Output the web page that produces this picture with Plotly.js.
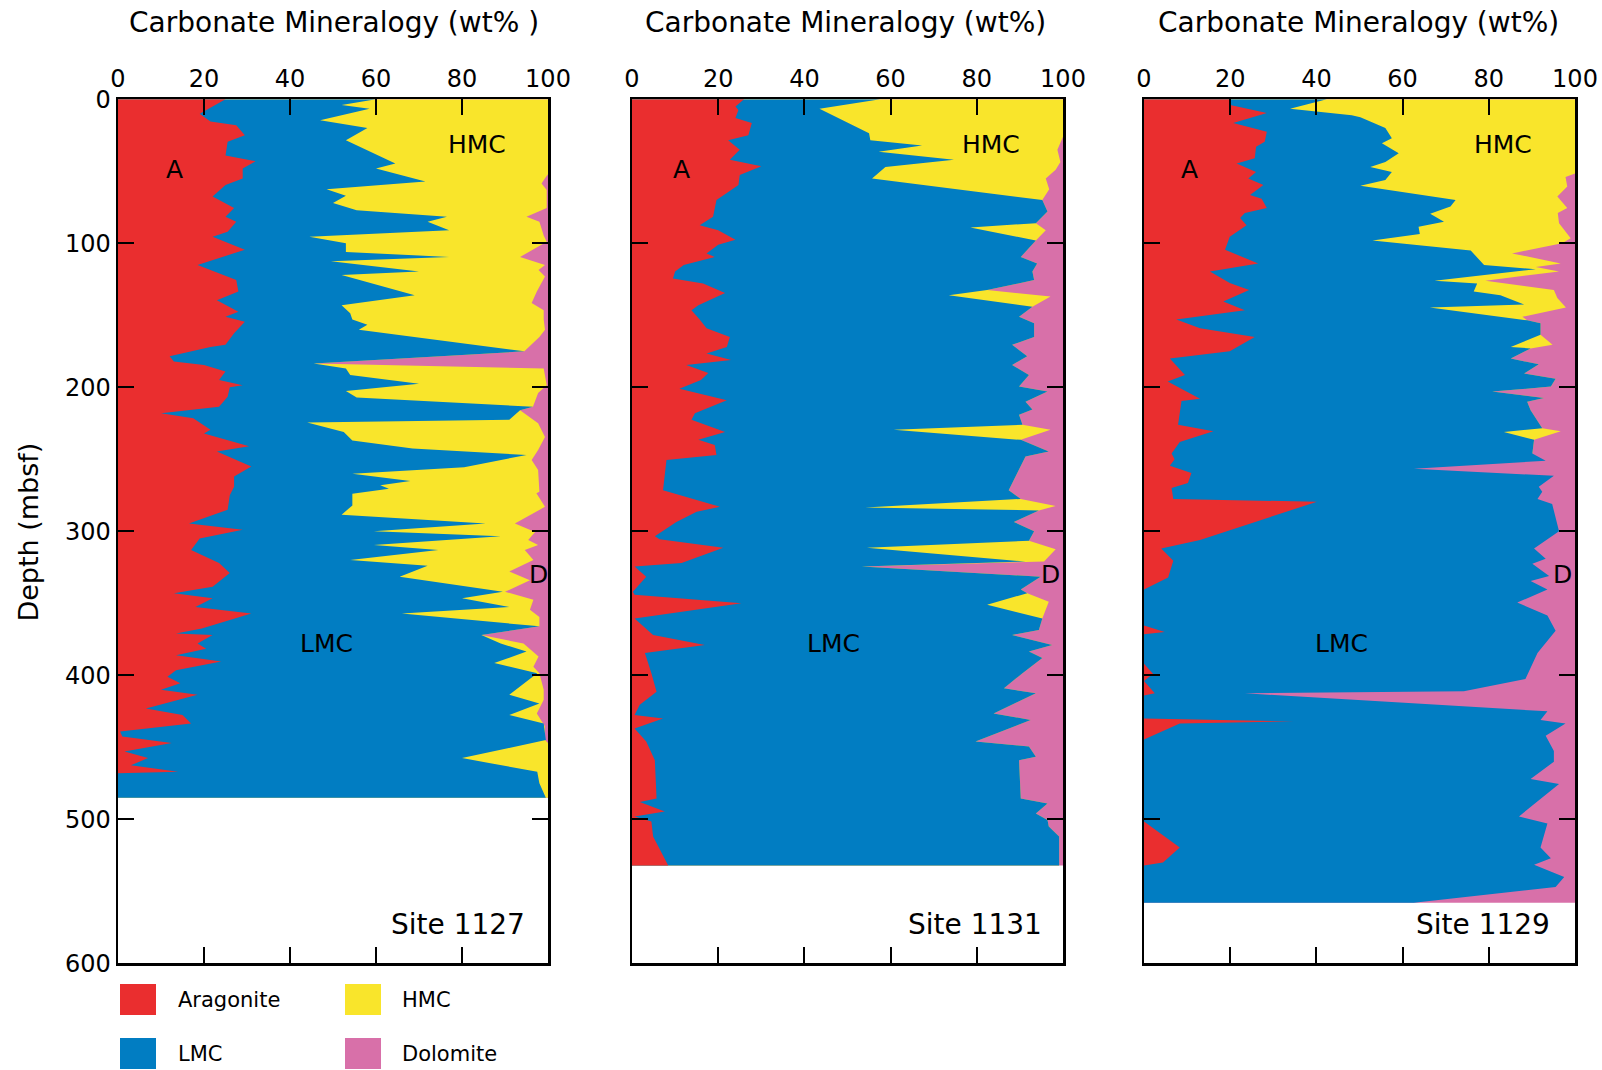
<!DOCTYPE html>
<html><head><meta charset="utf-8">
<script src="https://cdn.plot.ly/plotly-3.0.1.min.js"></script>
<style>html,body{margin:0;padding:0;background:#fff;} #chart{width:1602px;height:1070px;}</style>
</head><body><div id="chart"></div>
<script>
// ---------------- DATA ----------------
const siteNames = ['Site 1127', 'Site 1131', 'Site 1129'];
const siteBottom = [485, 532, 558];          // deepest sample (mbsf)
const xTicks = [0, 20, 40, 60, 80, 100];
const depthTicks = [0, 100, 200, 300, 400, 500, 600];

// Site 1127 : aragonite (wt%)
const s1127_aragDepth = [0,10,15.5,18,25,29.5,39,43,48,55, 59.5,67.5,75.5,81.5,85,92,95.5,104.5,115,125.5, 133.5,139.5,147.5,151,154.5,162.5,170.5,172,178.5,182, 184.5,189,195,198.5,200,206.5,213.5,218,221.5,229.5, 232,241,244.5,255,262,269,275,285,294.5,299, 305,313,322,329,338.5,343,346.5,352.5,357,367.5, 371,372,378,381.5,386,390.5,396.5,401,405.5,410, 413.5,423,427.5,433.5,439,442.5,447,453,457.5,462.5, 467,468,485];
const s1127_arag = [25,19,21.5,27.5,29.5,25.5,25,32,29,29, 25,22,27,25,27.5,25.5,22,29.5,18.5,27.5, 28,23,28,25,29.5,27,25,21.5,12,13, 20,25,23.5,29,26,25.5,23.5,10,17.5,21.5, 20,30.5,23,31,27,27,26,25.5,16.5,29, 19,17,23.5,26,22,13,22,18,31,19.5, 13.5,22,18.5,20.5,13.5,24,13.5,11.5,14.5,10, 18.5,6.5,15,17,0.5,1,12.5,1.5,7,3, 14,0,0];
// Site 1127 : aragonite + LMC (cumulative wt%)
const s1127_lmcDepth = [0,4,6.5,14.5,20,28.5,44.5,48,57,62.5, 67,72,77,81.5,85,91,95.5,100,106,109.5, 112.5,119.5,122,136,143,148.5,153,156.5,160,175, 183.5,187,191.5,197.5,202.5,207,213.5,216,222.5,224.5, 231,237,242.5,247,255.5,260,265,268,270.5,274, 282,288.5,294.5,300,303.5,309.5,313,320,324,331.5, 342,346.5,352.5,357,366,372,378,383.5,391.5,398.5, 413.5,419.5,427.5,433.5,445,457.5,467,475,485];
const s1127_aragLmc = [60,52,58.5,47,58,53,64.5,60,71.5,48.5, 53,50,55.5,76.5,72,77,44.5,53,53,77, 49.5,70,52,69,52,54,54.5,58,56,94.5, 45.5,53,54,70,53,55.5,96.5,93.5,91,44, 52.5,54.5,68.5,95,80.5,54.5,68,61,63,54.5, 54.5,52,85.5,59.5,89,59.5,74.5,54,72,65.5, 89.5,80,91,66,98,84.5,89,95,87.5,97.5, 91,98,91,99,99.5,80,97.5,98,99.5];
// Site 1127 : aragonite + LMC + HMC (cumulative wt%); remainder is dolomite
const s1127_hmcDepth = [0,52,54,58.5,63,75.5,81.5,85,94.5,99, 109.5,115,118.5,123,133.5,141.5,146.5,153,160,165, 175,183.5,187,198.5,204,213.5,216,225,234.5,243.5, 250.5,257.5,272.5,273.5,283,294.5,300.5,306,309.5,313, 320,328,334,342,347.5,354.5,359.5,366,372,378, 387,394,398.5,410,417,426.5,435.5,445,447,485];
const s1127_aragLmcHmc = [100,100,99.5,98.5,99.7,99.7,95,98,99,99.7, 93.5,99.3,97.8,99.3,97.4,96.2,99,99,99.3,98, 94.5,45.5,99,99.7,97.7,96.5,93.5,97.7,99.3,97.7, 96.2,97.7,98,97.3,99.3,92.3,97,95.4,97.7,94.6, 96.6,91,95.8,90,96.6,95.8,98,98,84.5,94.3, 97.8,96.6,98,99,99,97.4,99.3,99.3,100,100];

// Site 1131
const s1131_aragDepth = [0,5,7.5,13,16.5,25,28.5,35,42,46.5, 52.5,59.5,65,70,81.5,87.5,91,97.5,101,107, 109.5,115,119.5,124.5,128,134.5,143,146.5,153,159, 165,172,176.5,181,184.5,190,195,201,209,218, 222.5,231,236.5,240,247,250.5,271.5,273.5,283,286.5, 293.5,303.5,305.5,311.5,322,324.5,331.5,342,344,350, 360.5,372,379,384.5,398.5,411.5,420.5,427.5,430,437, 446,448.5,459,485.5,488,494.5,498,501.5,512,532];
const s1131_arag = [26,24,24.7,24,27.8,27,22.3,25,22.7,30, 25,24.7,22,19.6,18.8,15.7,20,24,20,17.3, 19.2,12,10,9.5,16.5,21.6,15.4,13.8,15.7,17.3, 22.7,22,17.3,23,12.6,17.7,16,11,22,14.6, 13.8,21.6,15.4,19.2,19.6,8,7.2,9.5,20.4,15, 10.3,5.3,6.4,21.2,11.5,0.6,3.3,0.2,0.6,25.4, 0.6,4.9,16.9,3,4.5,5.7,1.8,0.6,7.2,0.6, 3.3,3.7,5.3,5.7,1.8,7.6,0.6,4.5,4.9,8.4];
const s1131_lmcDepth = [0,6.5,23.5,28.5,32,36.5,42,47,55,70, 78,86,89,98,109.5,114,119.5,125.5,132.5,136, 144,151,155.5,165,170.5,178.5,184.5,191.5,199.5,203, 210,215.5,219,226,229.5,236.5,244.5,248,271.5,277.5, 283.5,285.5,293.5,300,306.5,311.5,321,324.5,331.5,340.5, 343,351,360.5,368.5,372,379,383.5,388,398.5,409, 412.5,426.5,431,446,449.5,456.5,459,485.5,489,496, 500.5,505,512,532];
const s1131_aragLmc = [57.6,43.5,55,55.3,67.3,57.2,74.7,58.8,55.7,95.2, 96.4,93.7,78.5,93.7,90.2,94,92.9,93.3,82.4,73.5, 92.9,89.8,93.3,93.3,88.2,91.7,88.2,92.1,89.8,96.4, 91.3,92.9,89.8,90.6,60.7,90.2,96.7,91.3,87.4,90.2, 54.1,94.4,88.6,93.3,92.1,54.5,91.3,53.3,94.8,90.2, 91.7,82.4,95.2,94.4,88.2,97.5,92.1,95.2,90.6,86.3, 93.7,83.9,92.5,79.7,92.1,93.7,89.8,90.2,96.4,93.7, 96.4,96.7,99.1,99.1];
const s1131_hmcDepth = [0,26,35,43.5,49,55,62.5,70,78,86, 91,98,109.5,114,119.5,125.5,132.5,137,144,151, 155.5,165,170.5,178.5,184.5,191.5,199.5,203,210,215.5, 219,226,229.5,236.5,244.5,248,271.5,277.5,282.5,285.5, 293.5,300,306.5,312.5,321,324.5,331.5,340.5,343,349, 360.5,368.5,372,379,383.5,388,398.5,409,412.5,426.5, 431,446,449.5,456.5,459,485.5,489,496,500.5,505, 512,532];
const s1131_aragLmcHmc = [100,100,98.7,99.4,98.3,96,96.8,95.2,96.4,93.7, 96,93.7,90.2,94,92.9,93.3,82.4,97.1,92.9,89.8, 93.3,93.3,88.2,91.7,88.2,92.1,89.8,96.4,91.3,92.9, 89.8,90.6,97.1,90.2,96.7,91.3,87.4,90.2,98.3,94.4, 88.6,93.3,92.1,98.3,95.6,53.3,94.8,90.2,91.7,96.7, 95.2,94.4,88.2,97.5,92.1,95.2,90.6,86.3,93.7,83.9, 92.5,79.7,92.1,93.7,89.8,90.2,96.4,93.7,96.4,96.7, 99.1,99.1];

// Site 1129
const s1129_aragDepth = [0,4,9.5,16.5,22.5,29.5,33,41,44.5,50.5, 55,59.5,66.5,69,75.5,79,82.5,87.5,95.5,104.5, 114,119.5,127.5,132.5,140.5,146.5,153,159,165,175, 180,191.5,196,208,209.5,226,230.5,238,246,250, 254.5,259.5,266.5,270,277.5,279.5,306,312,320.5,332, 340.5,365.5,370,371.5,392,399,404,412.5,414,430, 432,433.5,444.5,501.5,519.5,530,532,558];
const s1129_arag = [20,20,28.5,20.7,28.5,28,26,25.7,21.5,26, 24.2,27.7,24.6,27.3,28.5,23.4,22.3,23.8,19.9,18.8, 26.5,15.3,19.9,24.4,18.4,23.4,7.5,13,25.7,19.9, 6,9.5,5.5,13,8.7,7.9,16.1,8.3,6.4,7.1, 6,11,10.2,6.4,6.8,40.1,13,4,6.8,5.6, 0,0,4.8,0,0,2.1,0,2.5,0,0, 34.7,8.3,0,0,8.3,4.4,0,0];
const s1129_lmcDepth = [0,6.5,11,12.5,20,27,30.5,37.5,43.5,47, 50.5,56,60,70,74.5,79.5,85,88.5,93.5,98, 105,115,118,126,128,133.5,136,142.5,144.5,153.5, 155.5,163.5,172,173,180,184,190.5,194,199.5,203, 207.5,210,216,228.5,231,236.5,246,251,256.5,261.5, 269,272.5,277.5,281,300,312,319,322.5,331,334.5, 340.5,349.5,358.5,369,384.5,402.5,411,412.5,425,431, 433.5,442,452.5,460,472,475.5,498,503,519.5,527, 531.5,540,547,558];
const s1129_aragLmc = [42.4,33.9,48.2,50.2,56,57.5,55.2,59.1,56,52.5, 57.5,56,50.2,72.3,71.1,66.4,69.6,63.7,64,53, 75.8,78.9,90.9,67.4,77.3,76.5,82.7,88.2,66.3,88.9, 92,92,85.1,89.7,85.1,91.6,88.2,95.5,94.4,80.8, 92.8,88.9,89.7,92.4,83.5,90.5,90.1,93.2,62.6,95.1, 91.6,92.4,91.3,94.7,96.3,90.5,93.2,90.1,94,89.7, 93.6,86.6,93.6,95.5,91.3,88.5,74.2,23.4,93.6,92, 97.8,93.2,95.1,95.1,89.7,96.3,87,93.6,92,94.4, 90.5,97.5,95.5,62.6];
// HMC absent below 246 mbsf at Site 1129
const s1129_hmcDepth = [0,51.5,54,60.5,67.5,75.5,79,86,96.5,100, 107,114,116.5,119.5,126,132.5,138,144.5,151,153.5, 155.5,163.5,170.5,173,180,184,190.5,194,199.5,203, 207.5,210,216,228.5,230.5,236.5,246];
const s1129_aragLmcHmc = [100,100,97.8,98.2,95.9,98.2,96,96.3,99,97, 85.4,96.7,90.9,96.3,79.2,95.1,95.9,97.9,87.8,88.9, 92,92,94.8,89.7,85.1,91.6,88.2,95.5,94.4,80.8, 92.8,88.9,89.7,92.4,96.7,90.5,90.1];

// ---------------- STYLE ----------------
const colors = {Aragonite: '#EA2E2F', LMC: '#017DC2', HMC: '#F9E52B', Dolomite: '#D870A9'};
const FONT = '"DejaVu Sans", "Liberation Sans", Arial, sans-serif';
const W = 1602, H = 1070;
const px = v => v / W, py = v => 1 - v / H;

const siteData = [
  [s1127_aragDepth, s1127_arag, s1127_lmcDepth, s1127_aragLmc, s1127_hmcDepth, s1127_aragLmcHmc],
  [s1131_aragDepth, s1131_arag, s1131_lmcDepth, s1131_aragLmc, s1131_hmcDepth, s1131_aragLmcHmc],
  [s1129_aragDepth, s1129_arag, s1129_lmcDepth, s1129_aragLmc, s1129_hmcDepth, s1129_aragLmcHmc]
];

const traces = [];
siteData.forEach((sd, i) => {
  const xa = i === 0 ? 'x' : 'x' + (i + 1);
  const ya = i === 0 ? 'y' : 'y' + (i + 1);
  const base = {type: 'scatter', mode: 'lines', line: {width: 0}, fill: 'tozerox',
                xaxis: xa, yaxis: ya, hoverinfo: 'skip', showlegend: false};
  traces.push(Object.assign({}, base, {name: 'Dolomite', x: [100, 100], y: [0, siteBottom[i]], fillcolor: colors.Dolomite}));
  traces.push(Object.assign({}, base, {name: 'HMC', x: sd[5], y: sd[4], fillcolor: colors.HMC}));
  traces.push(Object.assign({}, base, {name: 'LMC', x: sd[3], y: sd[2], fillcolor: colors.LMC}));
  traces.push(Object.assign({}, base, {name: 'Aragonite', x: sd[1], y: sd[0], fillcolor: colors.Aragonite}));
});

const xDom = [[118, 548], [632, 1063], [1144, 1575]];
const yDom = [py(963.3), py(99.3)];

const layout = {
  width: W, height: H, margin: {l: 0, r: 0, t: 0, b: 0},
  paper_bgcolor: '#fff', plot_bgcolor: '#fff', showlegend: false,
  font: {family: FONT, color: '#000'},
  annotations: [], shapes: []
};

xDom.forEach((d, i) => {
  const sfx = i === 0 ? '' : String(i + 1);
  layout['xaxis' + sfx] = {
    domain: [px(d[0]), px(d[1])], range: [0, 100], side: 'top', anchor: 'y' + sfx,
    tickvals: xTicks, ticktext: xTicks.map(String), ticks: 'inside', ticklen: 16, tickwidth: 2, tickcolor: '#000',
    showline: true, linewidth: 2.5, linecolor: '#000', mirror: 'ticks',
    showgrid: false, zeroline: false, fixedrange: true,
    tickfont: {family: FONT, size: 24, color: '#000'}
  };
  layout['yaxis' + sfx] = {
    domain: yDom, range: [600, 0], autorange: false, anchor: 'x' + sfx,
    tickvals: depthTicks, ticktext: depthTicks.map(String), ticks: 'inside', ticklen: 16, tickwidth: 2, tickcolor: '#000',
    showline: true, linewidth: 2.5, linecolor: '#000', mirror: 'ticks',
    showgrid: false, zeroline: false, fixedrange: true, showticklabels: i === 0,
    tickfont: {family: FONT, size: 24, color: '#000'}
  };
  // panel title
  const cx = [333.6, 846, 1358][i];
  layout.annotations.push({xref: 'paper', yref: 'paper', x: px(cx), y: py(22.5), xanchor: 'center', yanchor: 'middle',
    text: i === 0 ? 'Carbonate Mineralogy (wt% )' : 'Carbonate Mineralogy (wt%)', showarrow: false,
    font: {family: FONT, size: 28, color: '#000'}});
  const xr = 'x' + sfx, yr = 'y' + sfx;
  const lab = (t, x, y, size, anchor) => layout.annotations.push({xref: xr, yref: yr, x: x, y: y, text: t,
    showarrow: false, xanchor: anchor || 'center', yanchor: 'middle', font: {family: FONT, size: size, color: '#000'}});
  const pos = [
    {A: 13.2, HMC: 83.5, LMC: 48.4, D: 97.8, site: 95.1},
    {A: 11.4, HMC: 83.2, LMC: 46.8, D: 97.0, site: 95.5},
    {A: 10.6, HMC: 83.4, LMC: 45.9, D: 97.1, site: 94.6}
  ][i];
  lab('A', pos.A, 48.8, 25);
  lab('HMC', pos.HMC, 31.3, 25);
  lab('LMC', pos.LMC, 378, 25);
  lab('D', pos.D, 330.3, 25);
  lab(siteNames[i], pos.site, 573, 28, 'right');
});

// y-axis title
layout.annotations.push({xref: 'paper', yref: 'paper', x: px(27.6), y: py(532), text: 'Depth (mbsf)', textangle: -90,
  showarrow: false, xanchor: 'center', yanchor: 'middle', font: {family: FONT, size: 27, color: '#000'}});

// legend (swatches + labels)
const legendItems = [
  {name: 'Aragonite', x0: 120, y0: 984, tx: 176, ty: 999.5},
  {name: 'LMC', x0: 120, y0: 1038, tx: 176, ty: 1053.5},
  {name: 'HMC', x0: 345, y0: 984, tx: 399.5, ty: 999.5},
  {name: 'Dolomite', x0: 345, y0: 1038, tx: 399.5, ty: 1053.5}
];
legendItems.forEach(it => {
  layout.shapes.push({type: 'rect', xref: 'paper', yref: 'paper', x0: px(it.x0), x1: px(it.x0 + 36),
    y0: py(it.y0 + 31), y1: py(it.y0), fillcolor: colors[it.name], line: {width: 0}});
  layout.annotations.push({xref: 'paper', yref: 'paper', x: px(it.tx), y: py(it.ty), text: it.name, showarrow: false,
    xanchor: 'left', yanchor: 'middle', font: {family: FONT, size: 21, color: '#000'}});
});

Plotly.newPlot('chart', traces, layout, {displayModeBar: false, staticPlot: true});
</script>
</body></html>
